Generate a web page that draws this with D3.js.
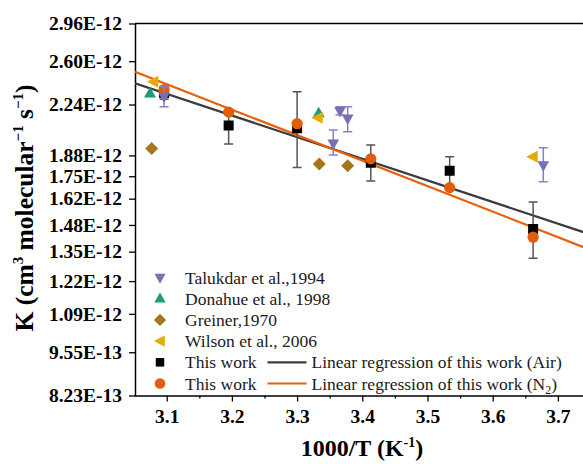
<!DOCTYPE html>
<html>
<head>
<meta charset="utf-8">
<script src="https://cdn.jsdelivr.net/npm/d3@7"></script>
<style>
  html, body { margin: 0; padding: 0; background: #fff; }
  svg { display: block; }
  svg text { font-family: "Liberation Serif", "Times New Roman", "DejaVu Serif", serif; }
</style>
</head>
<body>
<script>
// ---------------- DATA ----------------
const xTicks = [3.1, 3.2, 3.3, 3.4, 3.5, 3.6, 3.7];
const xMinorTicks = [3.15, 3.25, 3.35, 3.45, 3.55, 3.65];
const yTickValues = [2.96e-12, 2.60e-12, 2.24e-12, 1.88e-12, 1.75e-12, 1.62e-12, 1.48e-12, 1.35e-12, 1.22e-12, 1.09e-12, 9.55e-13, 8.23e-13];
const yTickLabels = ["2.96E-12", "2.60E-12", "2.24E-12", "1.88E-12", "1.75E-12", "1.62E-12", "1.48E-12", "1.35E-12", "1.22E-12", "1.09E-12", "9.55E-13", "8.23E-13"];

// Talukdar et al., 1994
const talukdarX = [3.096, 3.3555, 3.3658, 3.3776, 3.6776];
const talukdarK = [2.300e-12, 1.959e-12, 2.190e-12, 2.135e-12, 1.818e-12];
const talukdarLo = [2.223e-12, 1.882e-12, 2.160e-12, 2.039e-12, 1.717e-12];
const talukdarHi = [2.381e-12, 2.051e-12, 2.223e-12, 2.223e-12, 1.930e-12];

// Donahue et al., 1998
const donahueX = [3.0744, 3.3331];
const donahueK = [2.327e-12, 2.173e-12];

// Greiner, 1970
const greinerX = [3.077, 3.334, 3.3776];
const greinerK = [1.926e-12, 1.825e-12, 1.815e-12];

// Wilson et al., 2006
const wilsonX = [3.0795, 3.3316, 3.6613];
const wilsonK = [2.422e-12, 2.140e-12, 1.871e-12];

// This work (Air)
const airX = [3.096, 3.195, 3.300, 3.413, 3.534, 3.662];
const airK = [2.330e-12, 2.083e-12, 2.065e-12, 1.833e-12, 1.783e-12, 1.459e-12];
const airLo = [2.280e-12, 1.955e-12, 1.804e-12, 1.722e-12, 1.684e-12, 1.320e-12];
const airHi = [2.380e-12, 2.177e-12, 2.340e-12, 1.948e-12, 1.871e-12, 1.601e-12];

// This work (N2)
const n2X = [3.096, 3.195, 3.300, 3.413, 3.534, 3.662];
const n2K = [2.358e-12, 2.182e-12, 2.097e-12, 1.858e-12, 1.683e-12, 1.419e-12];

// Linear regressions: k = A * exp(-B * (1000/T))
const regAir = { A: 2.332e-11, B: 0.7440 };
const regN2  = { A: 3.647e-11, B: 0.8774 };

const legendNames = ["Talukdar et al.,1994", "Donahue et al., 1998", "Greiner,1970", "Wilson et al., 2006", "This work", "This work"];

// ---------------- CHART ----------------
const W = 583, H = 464;
const FONT = "'Liberation Serif', 'Times New Roman', 'DejaVu Serif', serif";
const colors = { tal: "#7571b4", don: "#1b9e77", gre: "#a6761d", wil: "#e6ab02", air: "#000000", n2: "#e05d0c" };

const svg = d3.select("body").append("svg").attr("width", W).attr("height", H)
  .style("font-family", FONT);

const x = d3.scaleLinear().domain([3.05, 3.75]).range([134.1, 590.5]);
const y = d3.scaleLog().domain([8.23e-13, 2.96e-12]).range([395.5, 23.5]);

const plotL = 135, plotR = 583, plotT = 23.5, plotB = 395.5;

svg.append("clipPath").attr("id", "clip")
  .append("rect").attr("x", plotL).attr("y", plotT - 10).attr("width", plotR - plotL + 20).attr("height", plotB - plotT + 10);

// top border
svg.append("line").attr("x1", plotL).attr("x2", W + 5).attr("y1", plotT).attr("y2", plotT)
  .attr("stroke", "#000").attr("stroke-width", 1.5);

// X axis
svg.append("g").attr("transform", `translate(0,${plotB})`)
  .call(d3.axisBottom(x).tickValues(xTicks).tickFormat(d3.format(".1f")).tickSize(6).tickSizeOuter(0).tickPadding(8));
svg.append("g").attr("transform", `translate(0,${plotB})`)
  .call(d3.axisBottom(x).tickValues(xMinorTicks).tickFormat("").tickSize(3).tickSizeOuter(0))
  .select(".domain").remove();

// Y axis
svg.append("g").attr("transform", `translate(${plotL},0)`)
  .call(d3.axisLeft(y).tickValues(yTickValues).tickFormat((d, i) => yTickLabels[i]).tickSize(6).tickSizeOuter(0).tickPadding(7));

svg.selectAll("g").attr("font-family", null);
svg.selectAll(".domain").attr("stroke", "#000").attr("stroke-width", 1.5);
svg.selectAll(".tick line").attr("stroke", "#000").attr("stroke-width", 1.3);
svg.selectAll(".tick text").style("font-family", FONT)
  .attr("font-size", 19.5).attr("font-weight", "bold").attr("fill", "#000");

// axis titles
const xt = svg.append("text").attr("x", 362).attr("y", 456).attr("text-anchor", "middle")
  .attr("font-size", 24).attr("font-weight", "bold").attr("fill", "#000");
xt.append("tspan").text("1000/T (K");
xt.append("tspan").attr("dy", -9).attr("font-size", 14).text("-1");
xt.append("tspan").attr("dy", 9).text(")");

const yt = svg.append("text").attr("transform", "translate(33,208) rotate(-90)").attr("text-anchor", "middle")
  .attr("font-size", 25.5).attr("font-weight", "bold").attr("fill", "#000");
yt.append("tspan").text("K (cm");
yt.append("tspan").attr("dy", -10).attr("font-size", 15).text("3");
yt.append("tspan").attr("dy", 10).text(" molecular");
yt.append("tspan").attr("dy", -10).attr("font-size", 15).text("\u22121");
yt.append("tspan").attr("dy", 10).text(" s");
yt.append("tspan").attr("dy", -10).attr("font-size", 15).text("\u22121");
yt.append("tspan").attr("dy", 10).text(")");

// shapes
function shapePath(type) {
  switch (type) {
    case "square": return "M-5,-5H5V5H-5Z";
    case "down": return "M-5.8,-4L5.8,-4L0,6.5Z";
    case "up": return "M-6,4L6,4L0,-6.5Z";
    case "left": return "M-6.5,0L5,-6L5,6Z";
    case "diamond": return "M0,-6.5L6.5,0L0,6.5L-6.5,0Z";
    case "circle": return d3.symbol(d3.symbolCircle, Math.PI * 5.6 * 5.6)();
  }
}

const plot = svg.append("g").attr("clip-path", "url(#clip)");

// regression lines
function regLine(reg, color) {
  const x0 = x.invert(plotL), x1 = x.domain()[1];
  plot.append("line")
    .attr("x1", x(x0)).attr("y1", y(reg.A * Math.exp(-reg.B * x0)))
    .attr("x2", x(x1)).attr("y2", y(reg.A * Math.exp(-reg.B * x1)))
    .attr("stroke", color).attr("stroke-width", 2.2);
}
regLine(regAir, "#3c3c3c");
regLine(regN2, "#e8600a");

// error bars
function errBars(xs, lo, hi, color) {
  const g = plot.append("g").attr("stroke", color).attr("stroke-width", 1.5).attr("fill", "none");
  xs.forEach((xv, i) => {
    const cx = x(xv), y1 = y(lo[i]), y2 = y(hi[i]);
    g.append("line").attr("x1", cx).attr("x2", cx).attr("y1", y1).attr("y2", y2);
    g.append("line").attr("x1", cx - 4.5).attr("x2", cx + 4.5).attr("y1", y1).attr("y2", y1);
    g.append("line").attr("x1", cx - 4.5).attr("x2", cx + 4.5).attr("y1", y2).attr("y2", y2);
  });
}

function points(xs, ks, type, color) {
  plot.append("g").selectAll("path").data(xs).join("path")
    .attr("transform", (d, i) => `translate(${x(d)},${y(ks[i])})`)
    .attr("d", shapePath(type)).attr("fill", color);
}

errBars(airX, airLo, airHi, "#555555");
points(airX, airK, "square", colors.air);
points(n2X, n2K, "circle", colors.n2);
points(greinerX, greinerK, "diamond", colors.gre);
points(donahueX, donahueK, "up", colors.don);
points(wilsonX, wilsonK, "left", colors.wil);
errBars(talukdarX, talukdarLo, talukdarHi, "#8581c4");
points(talukdarX, talukdarK, "down", colors.tal);

// legend
const legTypes = ["down", "up", "diamond", "left", "square", "circle"];
const legColors = [colors.tal, colors.don, colors.gre, colors.wil, colors.air, colors.n2];
const legY0 = 277.5, legDy = 21.2;
const leg = svg.append("g");
legendNames.forEach((name, i) => {
  const cy = legY0 + i * legDy;
  const t = legTypes[i];
  leg.append("path").attr("d", shapePath(t)).attr("fill", legColors[i])
    .attr("transform", `translate(160,${cy}) scale(${t === "square" ? 0.85 : 0.95})`);
  leg.append("text").attr("x", 185).attr("y", cy + 6).attr("font-size", 17.5).attr("fill", "#1a1a1a").text(name);
});
const regNames = [["Linear regression of this work (Air)", null], ["Linear regression of this work (N", "2"]];
["#3c3c3c", "#e8600a"].forEach((c, j) => {
  const cy = legY0 + (4 + j) * legDy;
  leg.append("line").attr("x1", 267.5).attr("x2", 306.5).attr("y1", cy).attr("y2", cy)
    .attr("stroke", c).attr("stroke-width", 2.2);
  const t = leg.append("text").attr("x", 311.5).attr("y", cy + 6).attr("font-size", 17.5).attr("fill", "#1a1a1a");
  t.append("tspan").text(regNames[j][0]);
  if (regNames[j][1]) {
    t.append("tspan").attr("dy", 4).attr("font-size", 12).text(regNames[j][1]);
    t.append("tspan").attr("dy", -4).text(")");
  }
});
</script>
</body>
</html>
